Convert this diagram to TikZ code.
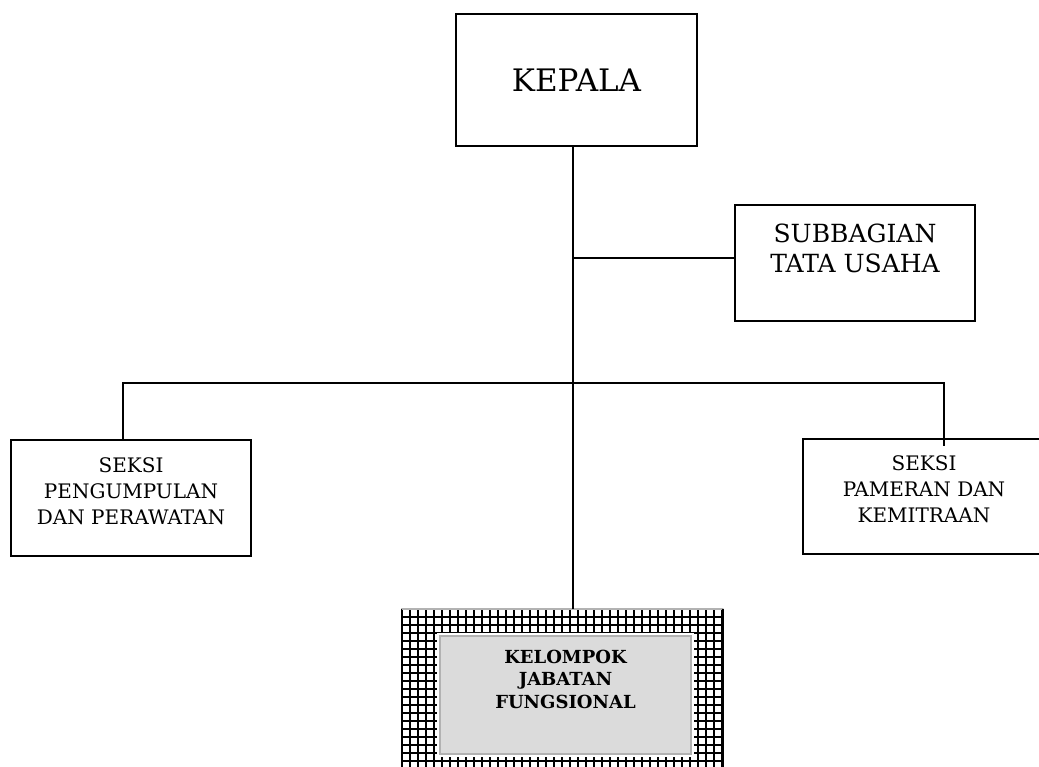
\documentclass[tikz,border=0pt]{standalone}
\usepackage{fontspec}
\setmainfont{DejaVu Serif}
\begin{document}
\begin{tikzpicture}[x=1pt,y=-1pt,
  box/.style={draw=black, line width=2.5pt, rectangle, inner sep=0pt, fill=white},
  conn/.style={draw=black, line width=2.2pt},
  lbl/.style={inner sep=0pt, align=center},
  bigtxt/.style={font=\fontsize{31}{37}\selectfont},
  midtxt/.style={font=\fontsize{25}{30}\selectfont},
  smalltxt/.style={font=\fontsize{20}{26}\selectfont},
  boldtxt/.style={font=\bfseries\fontsize{18}{22.5}\selectfont}
]
\useasboundingbox (0,0) rectangle (1039,766);
\clip (0,0) rectangle (1039,766);

% junction coordinates
\coordinate (j1) at (573,258);
\coordinate (j2) at (573,383);
\coordinate (lx) at (123,383);
\coordinate (rx) at (944,383);

% grid box (bottom)
\node[rectangle, inner sep=0pt, minimum width=321pt, minimum height=171pt] (jf) at (562.5,694.5) {};
\begin{scope}
  \clip (jf.north west) rectangle (jf.south east);
  \fill[white] (jf.north west) rectangle (jf.south east);
  \foreach \x in {402,410,...,730} \draw[line width=2.9pt] (\x,600) -- (\x,790);
  \foreach \y in {609,617,...,790} \draw[line width=2.9pt] (395,\y) -- (730,\y);
\end{scope}
\draw[line width=2.5pt] (jf.south west) -- (jf.north west);
\draw[line width=1.5pt, draw=gray!60] (jf.north west) -- (jf.north east);
\draw[line width=2.5pt] (jf.north east) -- (jf.south east);
\fill[white] (437,633) rectangle (694,757);
\node[rectangle, draw=gray!60, line width=2pt, fill=gray!28, minimum width=251pt, minimum height=118pt, inner sep=0pt] (jfin) at (565.5,695) {};
\node[lbl, boldtxt] (jft) at (565.5,679) {KELOMPOK\\JABATAN\\FUNGSIONAL};

% connectors
\draw[conn] (573,146) -- (jf.north -| j1);
\draw[conn] (j1) -- (735,258);
\draw[conn] (123,441) -- (lx) -- (rx) -- (944,446);

% boxes
\node[box, bigtxt, minimum width=241pt, minimum height=132pt] (kepala) at (576.5,80) {KEPALA};
\node[box, minimum width=240pt, minimum height=116pt] (sub) at (855,263) {};
\node[lbl, midtxt] (subt) at (855,248) {SUBBAGIAN\\TATA USAHA};
\node[box, minimum width=240pt, minimum height=116pt] (left) at (131,498) {};
\node[lbl, smalltxt] (leftt) at (131,491) {SEKSI\\PENGUMPULAN\\DAN PERAWATAN};
\draw[conn] (lx) -- (left.north -| lx);
\node[box, minimum width=240pt, minimum height=115pt, fill=none] (right) at (923,496.5) {};
\node[lbl, smalltxt] (rightt) at (924,489) {SEKSI\\PAMERAN DAN\\KEMITRAAN};
\end{tikzpicture}
\end{document}
